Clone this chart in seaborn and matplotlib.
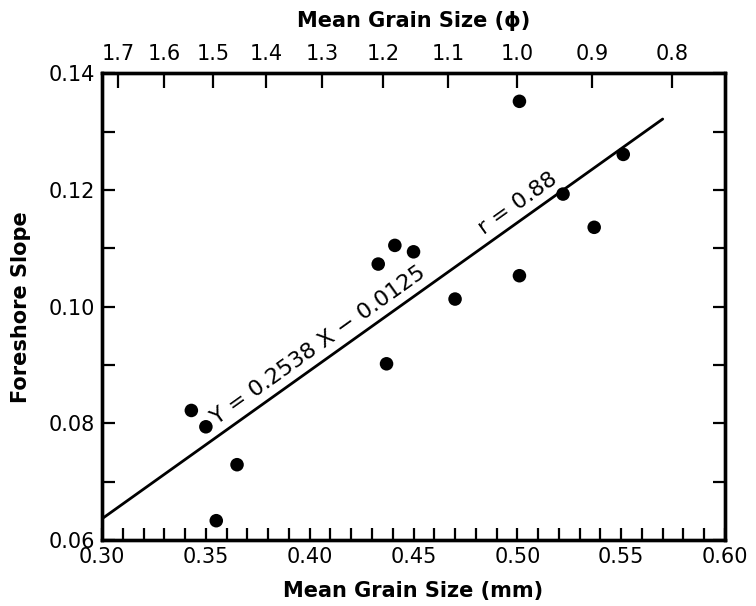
import numpy as np
import pandas as pd
import seaborn as sns
import matplotlib.pyplot as plt
from matplotlib.ticker import MultipleLocator

# values
grain_mm = [0.343, 0.350, 0.355, 0.365, 0.433, 0.437, 0.441, 0.450,
            0.470, 0.501, 0.501, 0.522, 0.537, 0.551]
slope = [0.0822, 0.0794, 0.0633, 0.0729, 0.1073, 0.0902, 0.1105, 0.1094,
         0.1013, 0.1352, 0.1053, 0.1193, 0.1136, 0.1261]

# regression as printed on the chart
fit_a = 0.2538
fit_b = -0.0125
fit_x = [0.30, 0.57]

phi_ticks = [1.7, 1.6, 1.5, 1.4, 1.3, 1.2, 1.1, 1.0, 0.9, 0.8]
phi_labels = ["1.7", "1.6", "1.5", "1.4", "1.3", "1.2", "1.1", "1.0", "0.9", "0.8"]

df = pd.DataFrame({"mm": grain_mm, "slope": slope})
fit = pd.DataFrame({"mm": fit_x, "slope": [fit_a * x + fit_b for x in fit_x]})

sns.set_style("ticks")
plt.rcParams["font.family"] = ["DejaVu Sans"]
plt.rcParams.update({"text.color": "black", "axes.labelcolor": "black",
                     "xtick.color": "black", "ytick.color": "black",
                     "axes.edgecolor": "black"})

fig = plt.figure(figsize=(7.56, 6.06), dpi=100)
ax = fig.add_axes([0.135, 0.109, 0.824, 0.770])

sns.lineplot(data=fit, x="mm", y="slope", color="black", lw=2.0, ax=ax)
sns.scatterplot(data=df, x="mm", y="slope", color="black", s=95,
                edgecolor="none", ax=ax, zorder=3)

ax.set_xlim(0.30, 0.60)
ax.set_ylim(0.06, 0.14)
ax.xaxis.set_major_locator(MultipleLocator(0.05))
ax.xaxis.set_minor_locator(MultipleLocator(0.01))
ax.yaxis.set_major_locator(MultipleLocator(0.02))
ax.yaxis.set_minor_locator(MultipleLocator(0.01))
ax.xaxis.set_major_formatter(lambda v, p: f"{v:.2f}")
ax.yaxis.set_major_formatter(lambda v, p: f"{v:.2f}")
ax.tick_params(which="both", direction="in", length=9, width=1.6,
               labelsize=15, right=True, top=False, pad=5)
for s in ax.spines.values():
    s.set_linewidth(2.4)

ax.set_xlabel("Mean Grain Size (mm)", fontsize=15, fontweight="bold", labelpad=10)
ax.set_ylabel("Foreshore Slope", fontsize=15, fontweight="bold", labelpad=13)

# phi scale on top
top = ax.twiny()
top.set_xlim(ax.get_xlim())
top.set_xticks([2 ** (-p) for p in phi_ticks])
top.set_xticklabels(phi_labels)
top.tick_params(direction="in", length=11, width=1.6, labelsize=15, pad=7)
top.set_xlabel("Mean Grain Size (\u03d5)", fontsize=15, fontweight="bold", labelpad=12)
for s in top.spines.values():
    s.set_linewidth(2.4)

# rotated annotations along the fit line
fig.canvas.draw()
p0 = ax.transData.transform((fit_x[0], fit.slope[0]))
p1 = ax.transData.transform((fit_x[1], fit.slope[1]))
ang = np.degrees(np.arctan2(p1[1] - p0[1], p1[0] - p0[0]))

x1 = 0.407
ax.text(x1, fit_a * x1 + fit_b + 0.0012, "Y = 0.2538 X \u2212 0.0125",
        rotation=ang, rotation_mode="anchor", ha="center", va="bottom",
        fontsize=16)
x2 = 0.503
ax.text(x2, fit_a * x2 + fit_b + 0.0012, "r = 0.88",
        rotation=ang, rotation_mode="anchor", ha="center", va="bottom",
        fontsize=16)

plt.savefig("out.png", dpi=100)
